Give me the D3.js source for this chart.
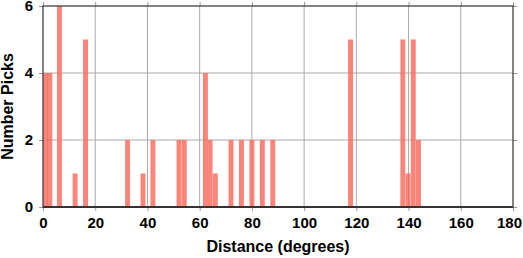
<!DOCTYPE html>
<html>
<head>
<meta charset="utf-8">
<script src="https://cdn.jsdelivr.net/npm/d3@7"></script>
<style>
  body { margin: 0; background: #fff; }
  text { font-family: "Liberation Sans", Arial, sans-serif; font-weight: bold; }
</style>
</head>
<body>
<script>
// distance of each bar (deg) and number of picks
var distances = [1.0, 2.6, 6.3, 12.3, 16.3, 32.4, 38.3, 42.1, 52.1, 54.1, 62.2, 64.0, 66.0,
                 72.0, 76.0, 80.0, 84.0, 88.0, 117.8, 137.8, 139.8, 141.8, 143.8];
var picks     = [4, 4, 6, 1, 5, 2, 1, 2, 2, 2, 4, 2, 1,
                 2, 2, 2, 2, 2, 5, 5, 1, 5, 2];
var xTicks = [0, 20, 40, 60, 80, 100, 120, 140, 160, 180];
var yTicks = [0, 2, 4, 6];
var barWidth = 1.9;

function main() {
    var W = 523, H = 258;
    var m = { left: 43, right: 10, top: 6, bottom: 51 };

    var data = _zip(distances, picks);

    var svg = d3.select("body")
      .append("svg")
      .attr("width", W)
      .attr("height", H);

    var x = d3.scaleLinear().domain([0, 180]).range([m.left, W - m.right]);
    var y = d3.scaleLinear().domain([0, 6]).range([H - m.bottom, m.top]);

    // grid
    svg.append("g")
      .selectAll("line.vx")
      .data(xTicks.slice(1, -1))
      .enter()
      .append("line")
      .attr("x1", function (d) { return x(d); })
      .attr("x2", function (d) { return x(d); })
      .attr("y1", y(0))
      .attr("y2", y(6))
      .attr("stroke", "#aaa")
      .attr("stroke-width", 1);
    svg.append("g")
      .selectAll("line.hy")
      .data(yTicks.slice(1, -1))
      .enter()
      .append("line")
      .attr("x1", x(0))
      .attr("x2", x(180))
      .attr("y1", function (d) { return y(d); })
      .attr("y2", function (d) { return y(d); })
      .attr("stroke", "#aaa")
      .attr("stroke-width", 1);

    // bars
    svg.append("g")
      .selectAll("rect")
      .data(data)
      .enter()
      .append("rect")
      .attr("x", function (d) { return Math.max(x(d.dist - barWidth / 2), x(0)); })
      .attr("width", function (d) {
          return x(d.dist + barWidth / 2) - Math.max(x(d.dist - barWidth / 2), x(0));
      })
      .attr("y", function (d) { return y(d.count); })
      .attr("height", function (d) { return y(0) - y(d.count); })
      .attr("fill", "#fa6a5c")
      .attr("fill-opacity", 0.82);

    // axes (ticks outside, gray)
    svg.append("g")
      .attr("transform", "translate(0," + y(0) + ")")
      .call(d3.axisBottom(x).tickValues(xTicks).tickSize(4).tickPadding(6).tickFormat(d3.format("d")));
    svg.append("g")
      .attr("transform", "translate(" + x(0) + ",0)")
      .call(d3.axisLeft(y).tickValues(yTicks).tickSize(4).tickPadding(6).tickFormat(d3.format("d")));
    svg.append("g")
      .attr("transform", "translate(0," + y(6) + ")")
      .call(d3.axisTop(x).tickValues(xTicks).tickSize(4).tickFormat(""));
    svg.append("g")
      .attr("transform", "translate(" + x(180) + ",0)")
      .call(d3.axisRight(y).tickValues(yTicks).tickSize(4).tickFormat(""));

    svg.selectAll(".domain").remove();
    svg.selectAll(".tick line").attr("stroke", "#999");
    svg.selectAll(".tick text")
      .attr("fill", "#000")
      .style("font-size", "15px");
    // keep the last label inside the window
    svg.selectAll(".tick text")
      .filter(function (d) { return d === 180; })
      .attr("dx", -4);

    // frame
    svg.append("rect")
      .attr("x", x(0))
      .attr("y", y(6))
      .attr("width", x(180) - x(0))
      .attr("height", y(0) - y(6))
      .attr("fill", "none")
      .attr("stroke", "#333")
      .attr("stroke-width", 1.2);
    svg.append("line")
      .attr("x1", x(0)).attr("x2", x(180))
      .attr("y1", y(0)).attr("y2", y(0))
      .attr("stroke", "#333")
      .attr("stroke-width", 2);

    // titles
    svg.append("text")
      .attr("x", (x(0) + x(180)) / 2)
      .attr("y", 252)
      .attr("text-anchor", "middle")
      .style("font-size", "16px")
      .text("Distance (degrees)");
    svg.append("text")
      .attr("transform", "translate(13," + ((y(0) + y(6)) / 2) + ") rotate(-90)")
      .attr("text-anchor", "middle")
      .style("font-size", "16px")
      .text("Number Picks");
}

function _zip(a, b) {
    return a.map(function (v, i) { return { dist: v, count: b[i] }; });
}

main();
</script>
</body>
</html>
